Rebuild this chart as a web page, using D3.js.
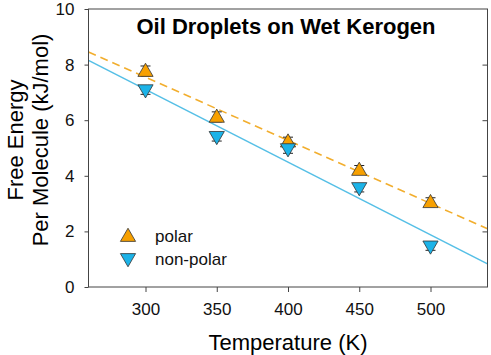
<!DOCTYPE html>
<html>
<head>
<meta charset="utf-8">
<script src="https://cdn.jsdelivr.net/npm/d3@7"></script>
<style>
  body { margin: 0; background: #fff; }
  svg text { font-family: "Liberation Sans", Arial, sans-serif; }
</style>
</head>
<body>
<div id="chart"></div>
<script>
// values
const temps = [300, 350, 400, 450, 500];
const polar = [7.77, 6.12, 5.23, 4.21, 3.05];
const nonPolar = [7.08, 5.40, 4.96, 3.56, 1.46];
const polarErr = [0.18, 0.18, 0.16, 0.16, 0.16];
const nonPolarErr = [0.15, 0.15, 0.15, 0.14, 0.14];
const xTicks = [300, 350, 400, 450, 500];
const yTicks = [0, 2, 4, 6, 8, 10];

const width = 491, height = 355;
const margin = {top: 9, right: 3.5, bottom: 68, left: 88.5};

const orange = "#F7A000", blue = "#1CB3E8";

const svg = d3.select("#chart").append("svg")
    .attr("width", width)
    .attr("height", height);

const x = d3.scaleLinear()
    .domain([260, 540])
    .range([margin.left, width - margin.right]);

const y = d3.scaleLinear()
    .domain([0, 10])
    .range([height - margin.bottom, margin.top]);

// least squares fit for each series
function fit(xs, ys) {
  const mx = d3.mean(xs), my = d3.mean(ys);
  const b = d3.sum(xs, (v, i) => (v - mx) * (ys[i] - my)) / d3.sum(xs, v => (v - mx) ** 2);
  return t => my + b * (t - mx);
}

const plot = svg.append("g");
plot.append("clipPath").attr("id", "clip")
  .append("rect")
    .attr("x", x.range()[0]).attr("y", y.range()[1])
    .attr("width", x.range()[1] - x.range()[0])
    .attr("height", y.range()[0] - y.range()[1]);

const line = d3.line().x(d => x(d[0])).y(d => y(d[1]));
const fp = fit(temps, polar), fn = fit(temps, nonPolar);

plot.append("path")
    .attr("clip-path", "url(#clip)")
    .attr("d", line(x.domain().map(t => [t, fn(t)])))
    .attr("fill", "none")
    .attr("stroke", "#55BFE6")
    .attr("stroke-width", 1.5);

plot.append("path")
    .attr("clip-path", "url(#clip)")
    .attr("d", line(x.domain().map(t => [t, fp(t)])))
    .attr("fill", "none")
    .attr("stroke", "#F2AE2E")
    .attr("stroke-width", 1.6)
    .attr("stroke-dasharray", "8,5");

// error bars + markers
const tri = d3.symbol().type(d3.symbolTriangle).size(100);

function series(vals, errs, color, down) {
  const g = plot.append("g");
  const data = temps.map((t, i) => ({t, v: vals[i], e: errs[i]}));
  const eb = g.selectAll(".eb").data(data).enter().append("g")
      .attr("stroke", "#222").attr("stroke-width", 1);
  eb.append("line")
      .attr("x1", d => x(d.t)).attr("x2", d => x(d.t))
      .attr("y1", d => y(d.v - d.e)).attr("y2", d => y(d.v + d.e));
  eb.append("line")
      .attr("x1", d => x(d.t) - 5).attr("x2", d => x(d.t) + 5)
      .attr("y1", d => y(d.v + d.e)).attr("y2", d => y(d.v + d.e));
  eb.append("line")
      .attr("x1", d => x(d.t) - 5).attr("x2", d => x(d.t) + 5)
      .attr("y1", d => y(d.v - d.e)).attr("y2", d => y(d.v - d.e));
  g.selectAll(".m").data(data).enter().append("path")
      .attr("d", tri)
      .attr("transform", d => `translate(${x(d.t)},${y(d.v) + (down ? -1 : 1)}) rotate(${down ? 180 : 0})`)
      .attr("fill", color)
      .attr("stroke", "#333")
      .attr("stroke-width", 0.8);
}
series(polar, polarErr, orange, false);
series(nonPolar, nonPolarErr, blue, true);

// frame
const axisColor = "#444";
svg.append("rect")
    .attr("x", x.range()[0]).attr("y", y.range()[1])
    .attr("width", x.range()[1] - x.range()[0])
    .attr("height", y.range()[0] - y.range()[1])
    .attr("fill", "none").attr("stroke", axisColor).attr("stroke-width", 1);

const xAxis = svg.append("g")
    .attr("transform", `translate(0,${y.range()[0]})`)
    .call(d3.axisBottom(x).tickValues(xTicks).tickSize(5).tickPadding(11));
const yAxis = svg.append("g")
    .attr("transform", `translate(${x.range()[0]},0)`)
    .call(d3.axisLeft(y).tickValues(yTicks).tickSize(4).tickPadding(10));
const yRight = svg.append("g")
    .attr("transform", `translate(${x.range()[1]},0)`)
    .call(d3.axisRight(y).tickValues(yTicks.slice(1, -1)).tickSize(-5).tickFormat(""));

[xAxis, yAxis, yRight].forEach(a => {
  a.select(".domain").remove();
  a.selectAll(".tick line").attr("stroke", axisColor);
  a.selectAll("text").attr("fill", "#111").style("font-size", "17px");
});

// title & axis labels
svg.append("text")
    .attr("x", 286).attr("y", 34)
    .attr("text-anchor", "middle")
    .style("font-size", "22px").style("font-weight", "bold")
    .text("Oil Droplets on Wet Kerogen");

svg.append("text")
    .attr("x", 288).attr("y", 350)
    .attr("text-anchor", "middle")
    .style("font-size", "22px")
    .text("Temperature (K)");

const yl = svg.append("text")
    .attr("transform", "translate(0,140) rotate(-90)")
    .attr("text-anchor", "middle")
    .style("font-size", "22px");
yl.append("tspan").attr("x", 0).attr("y", 23).text("Free Energy");
yl.append("tspan").attr("x", 0).attr("y", 48).text("Per Molecule (kJ/mol)");

// legend
const legend = svg.append("g").attr("transform", "translate(128,236)");
[["polar", orange, false], ["non-polar", blue, true]].forEach((d, i) => {
  legend.append("path")
      .attr("d", tri)
      .attr("transform", `translate(0,${i * 23 + (d[2] ? -1 : 1)}) rotate(${d[2] ? 180 : 0})`)
      .attr("fill", d[1]).attr("stroke", "#333").attr("stroke-width", 0.8);
  legend.append("text")
      .attr("x", 27).attr("y", i * 23 + 6)
      .style("font-size", "17px").attr("fill", "#111")
      .text(d[0]);
});
</script>
</body>
</html>
